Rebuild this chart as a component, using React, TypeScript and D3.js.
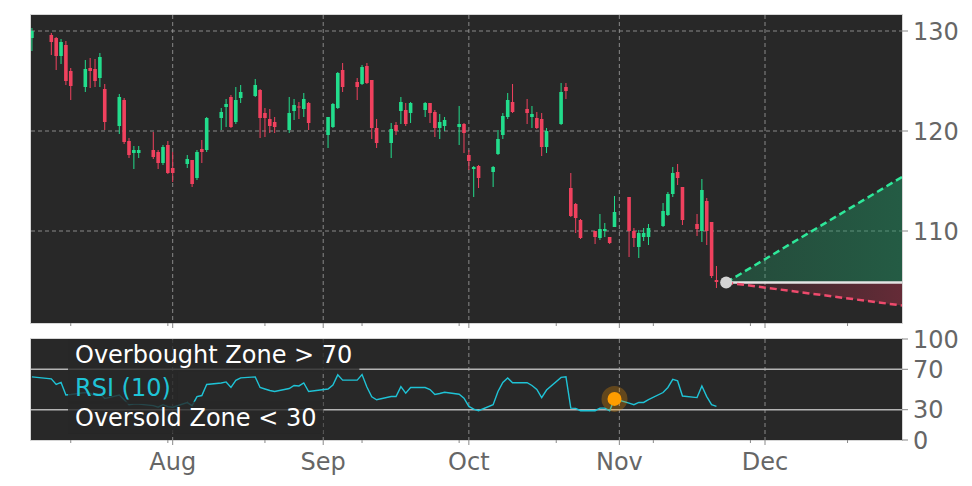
import { useEffect, useRef } from "react";
import * as d3 from "d3";

// ── Data ──────────────────────────────────────────────────────────────────────

const DATES = [
  "2025-07-03",
  "2025-07-07","2025-07-08","2025-07-09","2025-07-10","2025-07-11",
  "2025-07-14","2025-07-15","2025-07-16","2025-07-17","2025-07-18",
  "2025-07-21","2025-07-22","2025-07-23","2025-07-24","2025-07-25",
  "2025-07-28","2025-07-29","2025-07-30","2025-07-31","2025-08-01",
  "2025-08-04","2025-08-05","2025-08-06","2025-08-07","2025-08-08",
  "2025-08-11","2025-08-12","2025-08-13","2025-08-14","2025-08-15",
  "2025-08-18","2025-08-19","2025-08-20","2025-08-21","2025-08-22",
  "2025-08-25","2025-08-26","2025-08-27","2025-08-28","2025-08-29",
  "2025-09-02","2025-09-03","2025-09-04","2025-09-05",
  "2025-09-08","2025-09-09","2025-09-10","2025-09-11","2025-09-12",
  "2025-09-15","2025-09-16","2025-09-17","2025-09-18","2025-09-19",
  "2025-09-22","2025-09-23","2025-09-24","2025-09-25","2025-09-26",
  "2025-09-29","2025-09-30","2025-10-01","2025-10-02","2025-10-03",
  "2025-10-06","2025-10-07","2025-10-08","2025-10-09","2025-10-10",
  "2025-10-13","2025-10-14","2025-10-15","2025-10-16","2025-10-17",
  "2025-10-20","2025-10-21","2025-10-22","2025-10-23","2025-10-24",
  "2025-10-27","2025-10-28","2025-10-29","2025-10-30","2025-10-31",
  "2025-11-03","2025-11-04","2025-11-05","2025-11-06","2025-11-07",
  "2025-11-10","2025-11-11","2025-11-12","2025-11-13","2025-11-14",
  "2025-11-17","2025-11-18","2025-11-19","2025-11-20","2025-11-21",
];

const OPEN = [
  129.3,
  129.6, 129.3, 127.5, 128.6, 126.0,
  124.4, 126.3, 126.2, 125.3, 124.2,
  120.5, 123.1, 119.0, 117.8, 117.8,
  118.1, 117.9, 116.8, 118.6, 116.3,
  116.7, 117.1, 115.3, 118.2, 118.1,
  121.3, 122.4, 123.4, 120.9, 123.3,
  123.5, 124.1, 121.8, 121.2, 120.9,
  120.1, 122.0, 122.45, 122.2, 122.8,
  119.6, 120.4, 122.3, 126.1,
  124.9, 124.7, 126.5, 125.1, 120.3,
  118.8, 120.6, 122.0, 122.1, 121.8,
  122.1, 122.8, 121.9, 120.3, 120.5,
  120.4, 120.7, 117.6, 116.2, 116.5,
  115.9, 117.7, 119.6, 121.4, 122.9,
  122.2, 121.4, 121.3, 121.2, 118.4,
  120.7, 124.4, 114.3, 112.7, 111.1,
  110.0, 109.3, 110.0, 109.4, 110.4,
  113.4, 110.0, 108.4, 109.4, 109.4,
  110.5, 111.6, 113.7, 115.9, 114.4,
  110.7, 110.0, 113.0, 110.9, 105.1,
];

const HIGH = [
  130.3,
  129.8, 129.4, 129.2, 129.0, 126.3,
  127.1, 127.3, 127.2, 127.8, 124.7,
  123.7, 123.3, 119.3, 118.5, 118.5,
  119.9, 118.1, 118.6, 119.0, 117.9,
  117.6, 117.1, 118.1, 119.1, 121.4,
  122.3, 123.2, 123.6, 124.4, 124.6,
  125.2, 124.2, 122.3, 122.2, 121.4,
  123.4, 123.2, 122.9, 123.8, 122.9,
  121.4, 122.8, 125.9, 126.8,
  125.3, 126.6, 126.8, 125.1, 121.2,
  120.8, 120.9, 123.4, 122.8, 122.9,
  122.9, 122.8, 122.1, 121.7, 121.4,
  122.5, 120.8, 118.1, 116.5, 116.6,
  116.5, 120.1, 121.8, 123.8, 124.7,
  123.2, 122.5, 121.9, 121.8, 120.3,
  124.8, 124.8, 115.8, 112.8, 111.2,
  110.0, 111.7, 110.8, 109.4, 113.5,
  113.4, 110.3, 110.1, 110.3, 110.7,
  112.8, 113.9, 116.4, 116.7, 114.4,
  111.7, 115.2, 113.3, 110.9, 106.5,
];

const LOW = [
  128.0,
  127.6, 126.1, 126.7, 124.6, 123.1,
  123.9, 124.3, 124.4, 124.4, 120.1,
  119.7, 118.7, 117.3, 116.2, 117.3,
  117.2, 116.2, 116.6, 115.7, 114.9,
  116.3, 114.4, 115.1, 116.8, 117.9,
  120.1, 120.4, 120.3, 120.7, 122.8,
  123.4, 119.3, 119.4, 119.8, 119.8,
  119.8, 121.1, 121.2, 121.4, 120.1,
  118.3, 120.3, 122.2, 123.9,
  123.1, 124.6, 124.7, 119.2, 118.3,
  117.3, 119.6, 120.7, 120.5, 120.8,
  121.4, 120.8, 119.4, 119.2, 120.0,
  118.6, 117.8, 116.1, 113.4, 114.3,
  114.4, 117.6, 119.2, 121.2, 121.8,
  120.7, 120.3, 120.2, 117.5, 117.8,
  120.6, 123.2, 111.4, 109.8, 109.2,
  108.7, 109.1, 109.4, 108.7, 110.4,
  107.4, 108.4, 107.3, 109.0, 108.6,
  110.4, 111.5, 113.4, 114.6, 110.6,
  109.5, 108.9, 108.6, 105.3, 104.3,
];

const CLOSE = [
  130.0,
  128.9, 127.5, 128.9, 125.0, 124.5,
  126.2, 126.0, 125.0, 127.4, 120.9,
  123.4, 118.9, 117.6, 118.1, 118.1,
  117.4, 116.8, 118.4, 115.8, 115.8,
  117.2, 114.7, 117.9, 117.9, 121.3,
  121.9, 122.7, 120.4, 123.1, 123.9,
  124.6, 121.3, 121.3, 120.5, 120.4,
  121.8, 122.6, 122.35, 123.2, 120.8,
  121.4, 122.7, 125.8, 124.4,
  124.4, 126.4, 124.8, 120.3, 118.8,
  120.2, 120.0, 122.9, 120.7, 122.8,
  122.8, 121.8, 120.3, 120.9, 121.1,
  120.7, 119.8, 117.0, 116.4, 115.3,
  116.4, 119.2, 121.5, 123.1, 121.9,
  121.8, 121.7, 120.3, 118.4, 120.0,
  123.9, 124.0, 111.5, 111.3, 109.3,
  109.4, 110.2, 110.2, 108.8, 111.9,
  110.0, 109.3, 109.8, 109.8, 110.3,
  112.0, 113.7, 115.8, 115.3, 111.1,
  110.2, 114.1, 110.0, 105.5, 104.9,
];

const RSI = [
  62.5,
  60.5, 55.0, 57.0, 44.5, 45.0,
  47.0, 46.0, 44.0, 46.0, 41.0,
  44.5, 39.8, 35.0, 35.5, 35.5,
  34.0, 32.5, 35.0, 33.0, 32.5,
  37.0, 34.0, 43.0, 44.0, 55.0,
  56.5, 57.5, 52.0, 59.0, 61.5,
  62.5, 52.0, 50.5, 49.0, 48.0,
  51.0, 54.0, 53.5, 56.5, 48.0,
  50.5, 54.5, 64.5, 59.3,
  59.3, 64.8, 52.5, 42.8, 39.8,
  43.0, 43.0, 52.8, 46.3, 52.0,
  52.0, 50.0, 45.0, 46.0, 47.2,
  45.3, 41.4, 33.3, 30.5, 29.0,
  35.0, 48.0, 57.0, 61.5, 56.7,
  56.7, 54.0, 50.0, 42.0, 49.5,
  62.0, 62.5, 31.6, 31.3, 29.0,
  29.0, 31.6, 31.6, 29.0, 40.7,
  36.5, 34.9, 37.2, 37.2, 40.0,
  47.0, 52.0, 60.0, 58.5, 43.5,
  42.0, 53.5, 43.0, 35.0, 33.3,
];

const PRICE_TICKS = [110, 120, 130];
const RSI_TICKS   = [0, 30, 70, 100];
const RSI_LEVELS  = [30, 70];
const RSI_LABELS  = ["Overbought Zone > 70", "RSI (10)", "Oversold Zone < 30"];

const FORECAST_START = "2025-11-23";
const FORECAST_BASE  = 104.85;
const FORECAST_HIGH  = 115.4;
const FORECAST_LOW   = 102.55;

const SIGNAL_DATE = "2025-10-31";
const SIGNAL_RSI  = 40.7;

// ── Layout ────────────────────────────────────────────────────────────────────

const W = 972;
const H = 486;
const X0 = 31;
const X1 = 902;
const MAIN = { top: 15, bottom: 323 };
const LOWER = { top: 339, bottom: 440 };
const X_DOMAIN = [new Date("2025-07-02T19:30:00Z"), new Date("2025-12-29T05:15:00Z")];
const PRICE_DOMAIN = [100.8, 131.6];

const BG      = "#282828";
const GREEN   = "#22dd8c";
const RED     = "#f0415e";
const CYAN    = "#1fc3d6";
const TICK_FG = "#666666";
const FONT    = "DejaVu Sans, sans-serif";

// ── Component ─────────────────────────────────────────────────────────────────

const App = () => {
  const svgRef = useRef<SVGSVGElement>(null);

  useEffect(() => {
    if (!svgRef.current) return;
    const svg = d3.select(svgRef.current);
    svg.selectAll("*").remove();

    const x = d3.scaleUtc().domain(X_DOMAIN).range([X0, X1]);
    const yP = d3.scaleLinear().domain(PRICE_DOMAIN).range([MAIN.bottom, MAIN.top]);
    const yR = d3.scaleLinear().domain([0, 100]).range([LOWER.bottom, LOWER.top]);

    const candles = DATES.map((d, i) => ({
      date: new Date(d + "T00:00:00Z"),
      o: OPEN[i], h: HIGH[i], l: LOW[i], c: CLOSE[i], rsi: RSI[i],
    }));

    const months = d3.utcMonth.range(d3.utcMonth.ceil(X_DOMAIN[0]), X_DOMAIN[1]);
    const minors = d3.utcDay.range(new Date("2025-07-11T00:00:00Z"), X_DOMAIN[1], 20);

    const defs = svg.append("defs");
    [["clip-main", MAIN], ["clip-lower", LOWER]].forEach(([id, p]: any) => {
      defs.append("clipPath").attr("id", id)
        .append("rect").attr("x", X0).attr("y", p.top)
        .attr("width", X1 - X0).attr("height", p.bottom - p.top);
    });
    const gradG = defs.append("linearGradient").attr("id", "grad-up");
    gradG.append("stop").attr("offset", "0%").attr("stop-color", "#1f9a66").attr("stop-opacity", 0.3);
    gradG.append("stop").attr("offset", "100%").attr("stop-color", "#1f9a66").attr("stop-opacity", 0.45);
    const gradR = defs.append("linearGradient").attr("id", "grad-down");
    gradR.append("stop").attr("offset", "0%").attr("stop-color", "#c0304d").attr("stop-opacity", 0.05);
    gradR.append("stop").attr("offset", "100%").attr("stop-color", "#c0304d").attr("stop-opacity", 0.4);

    // Panels
    [MAIN, LOWER].forEach((p) => {
      svg.append("rect")
        .attr("x", X0).attr("y", p.top)
        .attr("width", X1 - X0).attr("height", p.bottom - p.top)
        .attr("fill", BG);
    });

    // Grid
    const grid = svg.append("g")
      .attr("stroke", "#a0a0a0").attr("stroke-width", 1)
      .attr("stroke-dasharray", "4,3").attr("stroke-opacity", 0.8);
    PRICE_TICKS.forEach((t) => {
      grid.append("line").attr("x1", X0).attr("x2", X1)
        .attr("y1", yP(t)).attr("y2", yP(t));
    });
    [MAIN, LOWER].forEach((p) => {
      months.forEach((m) => {
        grid.append("line").attr("x1", x(m)).attr("x2", x(m))
          .attr("y1", p.top).attr("y2", p.bottom);
      });
    });

    // Candles
    const cg = svg.append("g").attr("clip-path", "url(#clip-main)");
    const bw = 3.6;
    candles.forEach((d) => {
      const col = d.c >= d.o ? GREEN : RED;
      const cx = x(d.date);
      cg.append("line")
        .attr("x1", cx).attr("x2", cx)
        .attr("y1", yP(d.h)).attr("y2", yP(d.l))
        .attr("stroke", col).attr("stroke-width", 1);
      const top = yP(Math.max(d.o, d.c));
      const bot = yP(Math.min(d.o, d.c));
      cg.append("rect")
        .attr("x", cx - bw / 2).attr("width", bw)
        .attr("y", top).attr("height", Math.max(1, bot - top))
        .attr("fill", col);
    });

    // Forecast cone
    const fx0 = x(new Date(FORECAST_START + "T00:00:00Z"));
    const fx1 = X1;
    const fy0 = yP(FORECAST_BASE);
    cg.append("path")
      .attr("d", `M${fx0},${fy0}L${fx1},${yP(FORECAST_HIGH)}L${fx1},${fy0}Z`)
      .attr("fill", "url(#grad-up)");
    cg.append("path")
      .attr("d", `M${fx0},${fy0}L${fx1},${yP(FORECAST_LOW)}L${fx1},${fy0}Z`)
      .attr("fill", "url(#grad-down)");
    cg.append("line")
      .attr("x1", fx0).attr("x2", fx1).attr("y1", fy0).attr("y2", fy0)
      .attr("stroke", "#e4e4e4").attr("stroke-width", 2.5);
    cg.append("line")
      .attr("x1", fx0).attr("x2", fx1).attr("y1", fy0).attr("y2", yP(FORECAST_HIGH))
      .attr("stroke", "#2ee89a").attr("stroke-width", 2.5).attr("stroke-dasharray", "7,4");
    cg.append("line")
      .attr("x1", fx0).attr("x2", fx1).attr("y1", fy0).attr("y2", yP(FORECAST_LOW))
      .attr("stroke", "#ee4a6c").attr("stroke-width", 2.5).attr("stroke-dasharray", "7,4");
    svg.append("circle")
      .attr("cx", fx0).attr("cy", fy0).attr("r", 6)
      .attr("fill", "#d4d4d4");

    // RSI panel
    const rg = svg.append("g").attr("clip-path", "url(#clip-lower)");
    RSI_LEVELS.forEach((v) => {
      rg.append("line").attr("x1", X0).attr("x2", X1)
        .attr("y1", yR(v)).attr("y2", yR(v))
        .attr("stroke", "#b4b4b4").attr("stroke-width", 1.6);
    });
    const rsiLine = d3.line<typeof candles[number]>()
      .x((d) => x(d.date)).y((d) => yR(d.rsi));
    rg.append("path").datum(candles)
      .attr("d", rsiLine)
      .attr("fill", "none").attr("stroke", CYAN).attr("stroke-width", 1.4);

    const sx = x(new Date(SIGNAL_DATE + "T00:00:00Z"));
    rg.append("circle").attr("cx", sx).attr("cy", yR(SIGNAL_RSI)).attr("r", 13)
      .attr("fill", "#ff9900").attr("fill-opacity", 0.28);
    rg.append("circle").attr("cx", sx).attr("cy", yR(SIGNAL_RSI)).attr("r", 7)
      .attr("fill", "#ff9d00");

    // Zone labels with boxes
    const baselines = [363.3, 396, 425.7];
    RSI_LABELS.forEach((lab, i) => {
      const g = rg.append("g");
      const rect = g.append("rect");
      const t = g.append("text")
        .attr("x", 75).attr("y", baselines[i])
        .attr("font-family", FONT).attr("font-size", 24)
        .attr("fill", i === 1 ? CYAN : "#ffffff")
        .text(lab);
      const bb = (t.node() as SVGTextElement).getBBox();
      rect.attr("x", bb.x - 7).attr("y", bb.y - 2)
        .attr("width", bb.width + 14).attr("height", bb.height + 4)
        .attr("fill", "#272727").attr("fill-opacity", 0.8);
    });

    // Panel borders
    [MAIN, LOWER].forEach((p) => {
      svg.append("rect")
        .attr("x", X0 - 0.5).attr("y", p.top - 0.5)
        .attr("width", X1 - X0 + 1).attr("height", p.bottom - p.top + 1)
        .attr("fill", "none").attr("stroke", "#d6d6d6").attr("stroke-width", 1);
    });

    // Right axes
    const axisText = (g: any) => g.attr("font-family", FONT).attr("font-size", 24).attr("fill", TICK_FG);
    PRICE_TICKS.forEach((t) => {
      svg.append("line").attr("x1", X1).attr("x2", X1 + 6)
        .attr("y1", yP(t)).attr("y2", yP(t)).attr("stroke", "#888");
      svg.append("text").call(axisText)
        .attr("x", X1 + 11).attr("y", yP(t)).attr("dy", "0.36em").text(t);
    });
    RSI_TICKS.forEach((t) => {
      svg.append("line").attr("x1", X1).attr("x2", X1 + 6)
        .attr("y1", yR(t)).attr("y2", yR(t)).attr("stroke", "#888");
      svg.append("text").call(axisText)
        .attr("x", X1 + 11).attr("y", yR(t)).attr("dy", "0.36em").text(t);
    });

    // Bottom ticks on both panels
    [MAIN, LOWER].forEach((p) => {
      months.forEach((m) => {
        svg.append("line").attr("x1", x(m)).attr("x2", x(m))
          .attr("y1", p.bottom).attr("y2", p.bottom + 5).attr("stroke", "#888");
      });
      minors.forEach((m) => {
        svg.append("line").attr("x1", x(m)).attr("x2", x(m))
          .attr("y1", p.bottom).attr("y2", p.bottom + 3).attr("stroke", "#888");
      });
    });
    months.forEach((m) => {
      svg.append("text").call(axisText)
        .attr("x", x(m)).attr("y", 470).attr("text-anchor", "middle")
        .text(d3.utcFormat("%b")(m));
    });
  }, []);

  return (
    <svg
      ref={svgRef}
      width={W}
      height={H}
      style={{ position: "absolute", left: 0, top: 0, background: "#ffffff", display: "block" }}
    />
  );
};

export default App;
